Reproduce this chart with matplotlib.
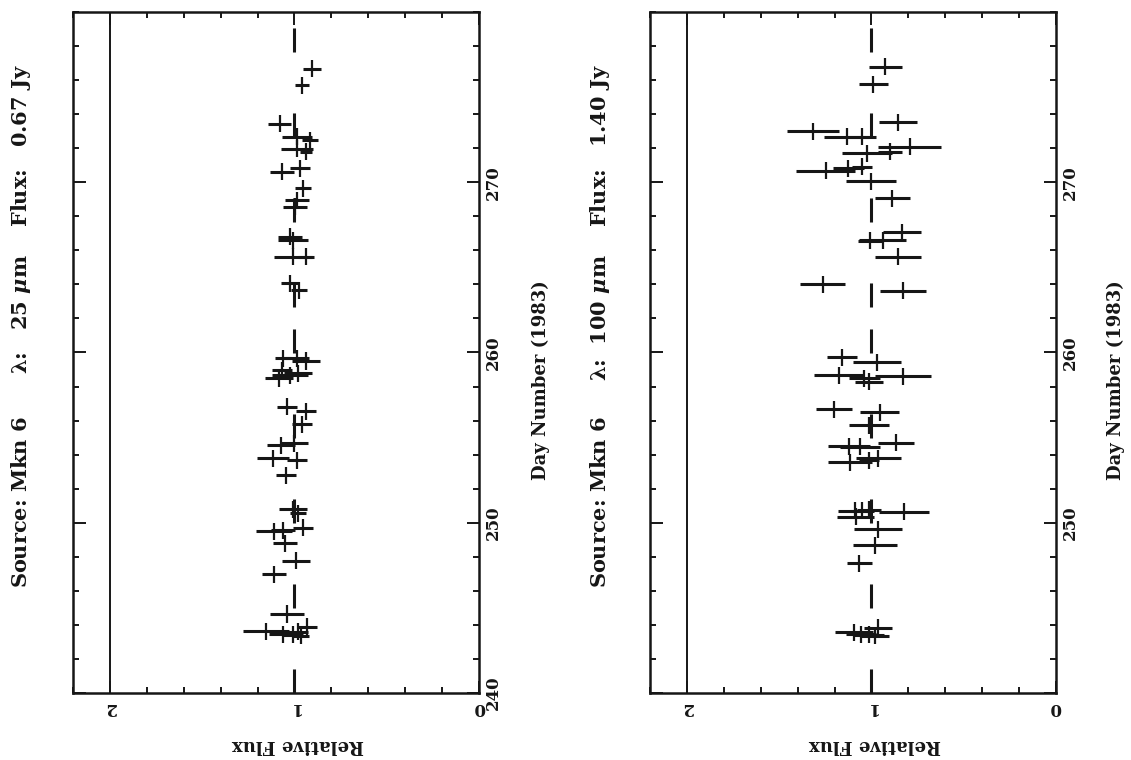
import matplotlib

matplotlib.use("Agg")
import matplotlib.pyplot as plt
from matplotlib.ticker import MultipleLocator

plt.rcParams["font.family"] = "DejaVu Serif"
plt.rcParams["font.weight"] = "bold"
plt.rcParams["mathtext.fontset"] = "dejavuserif"
plt.rcParams["lines.scale_dashes"] = False

INK = "#161616"
W, H = 1131, 760

# Mkn 6, 25 micron: day number, relative flux, flux error
DAY_25 = [276.68, 275.70, 273.45, 272.67, 272.47, 271.98, 271.79, 270.61,
          270.81, 269.64, 268.95, 268.56, 266.79, 266.60, 265.62, 265.62,
          264.06, 263.66, 259.65, 259.65, 259.50, 258.97, 258.48, 258.67,
          258.77, 256.81, 256.56, 255.78, 254.56, 254.66, 253.78, 253.68,
          252.80, 250.79, 250.57, 249.51, 249.57, 249.71, 248.79, 247.77,
          246.97, 244.64, 243.64, 243.46, 243.41, 243.60, 243.89, 243.35]
FLUX_25 = [0.907, 0.961, 1.079, 0.988, 0.916, 0.988, 0.938, 1.069,
           0.970, 0.952, 0.988, 0.997, 1.024, 1.007, 1.007, 0.938,
           1.024, 0.974, 1.061, 0.988, 0.938, 1.069, 1.082, 1.024,
           0.979, 1.039, 0.938, 0.961, 1.073, 1.001, 1.118, 0.988,
           1.046, 1.010, 0.983, 1.111, 1.061, 0.952, 1.051, 0.992,
           1.111, 1.042, 1.154, 1.064, 1.010, 0.979, 0.931, 0.965]
ERR_25 = [0.049, 0.038, 0.062, 0.081, 0.043, 0.087, 0.033, 0.065,
          0.054, 0.043, 0.065, 0.065, 0.065, 0.081, 0.103, 0.043,
          0.049, 0.043, 0.043, 0.065, 0.076, 0.054, 0.076, 0.098,
          0.076, 0.054, 0.054, 0.054, 0.076, 0.076, 0.087, 0.054,
          0.054, 0.076, 0.043, 0.098, 0.065, 0.054, 0.065, 0.076,
          0.065, 0.092, 0.125, 0.076, 0.054, 0.054, 0.054, 0.043]

# Mkn 6, 100 micron
DAY_100 = [276.78, 275.76, 273.51, 273.00, 272.67, 272.67, 272.08, 271.79,
           271.69, 270.67, 270.81, 270.90, 270.06, 269.05, 267.05, 266.60,
           266.56, 265.62, 264.00, 263.62, 259.71, 259.42, 258.67, 258.48,
           258.28, 258.61, 256.68, 256.48, 255.74, 254.70, 254.50, 254.46,
           253.80, 253.55, 253.68, 250.70, 250.70, 250.75, 250.65, 250.35,
           249.61, 248.69, 247.62, 243.56, 243.46, 243.83, 243.41, 243.36]
FLUX_100 = [0.925, 0.989, 0.857, 1.316, 1.135, 1.049, 0.793, 0.898,
            1.026, 1.249, 1.125, 1.053, 1.002, 0.886, 0.835, 0.940,
            1.007, 0.857, 1.265, 0.829, 1.158, 0.971, 1.174, 1.038,
            1.011, 0.829, 1.202, 0.956, 1.013, 0.868, 1.120, 1.060,
            0.962, 1.116, 1.013, 1.089, 1.049, 1.013, 0.822, 1.086,
            0.966, 0.980, 1.065, 1.094, 1.056, 0.966, 1.013, 0.980]
ERR_100 = [0.091, 0.076, 0.104, 0.142, 0.120, 0.076, 0.169, 0.065,
           0.136, 0.158, 0.082, 0.054, 0.136, 0.095, 0.104, 0.125,
           0.065, 0.125, 0.120, 0.123, 0.082, 0.131, 0.136, 0.082,
           0.076, 0.153, 0.098, 0.104, 0.109, 0.098, 0.114, 0.109,
           0.120, 0.120, 0.054, 0.093, 0.065, 0.065, 0.136, 0.098,
           0.131, 0.120, 0.068, 0.104, 0.082, 0.076, 0.082, 0.076]

DAY_ERR = 0.5  # half-width of each observation window (days)

TITLE_25 = r"Source: Mkn 6      λ:   25 $\mu$m    Flux:   0.67 Jy"
TITLE_100 = r"Source: Mkn 6     λ:  100 $\mu$m    Flux:   1.40 Jy"
DAY_TICKS = [240, 250, 260, 270]
DAY_LABELS_25 = ["240", "250", "260", "270"]
DAY_LABELS_100 = ["", "250", "260", "270"]
FLUX_TICKS = [0, 1, 2]
FLUX_LABELS = ["0", "1", "2"]
DAY_RANGE = (240, 280)
FLUX_RANGE = (2.2, 0)
SPLIT_DAY = 261.8  # the two dashed halves of the unit-flux line meet here


def fx(p):
    return p / W


def fy(p):
    return 1 - p / H


fig = plt.figure(figsize=(W / 100, H / 100), dpi=100)


def panel(x_left, x_right, days, flux, err, day_labels, title, title_x, xlab_x, flab_x):
    ax = fig.add_axes([fx(x_left), fy(693), fx(x_right - x_left), (693 - 12) / H])
    ax.set_xlim(*FLUX_RANGE)
    ax.set_ylim(*DAY_RANGE)

    ax.axvline(2.0, color=INK, lw=1.4)
    ax.plot([1, 1], [DAY_RANGE[0], SPLIT_DAY], color=INK, lw=2.2,
            linestyle=(0, (17.3, 43.9)))
    ax.plot([1, 1], [DAY_RANGE[1], SPLIT_DAY], color=INK, lw=2.2,
            linestyle=(49.7, (17.3, 43.9)))

    ax.errorbar(flux, days, xerr=err, fmt="none", ecolor=INK,
                elinewidth=2.2, capsize=0)
    ax.errorbar(flux, days, yerr=DAY_ERR, fmt="none", ecolor=INK,
                elinewidth=1.6, capsize=0)

    ax.set_xticks(FLUX_TICKS, labels=FLUX_LABELS)
    ax.xaxis.set_minor_locator(MultipleLocator(0.2))
    ax.set_yticks(DAY_TICKS, labels=day_labels)
    ax.yaxis.set_minor_locator(MultipleLocator(2))
    ax.tick_params(which="both", direction="in", top=True, bottom=True,
                   left=True, right=True, labelleft=False, labelright=True,
                   color=INK, width=1.4, labelcolor=INK)
    ax.tick_params(which="major", length=9)
    ax.tick_params(which="minor", length=4.5)
    ax.tick_params(axis="x", labelrotation=180, pad=4, labelsize=12)
    ax.tick_params(axis="y", labelrotation=90, pad=4, labelsize=12)
    for lbl in ax.get_yticklabels():
        lbl.set_va("center")
    for s in ax.spines.values():
        s.set_linewidth(1.8)
        s.set_color(INK)

    fig.text(fx(title_x), fy(326), title, rotation=90, ha="center",
             va="center", fontsize=15, color=INK)
    fig.text(fx(xlab_x), fy(380), "Day Number (1983)", rotation=90,
             ha="center", va="center", fontsize=13, color=INK)
    fig.text(fx(flab_x), fy(745), "Relative Flux", rotation=180,
             ha="center", va="center", fontsize=13, color=INK)
    return ax


panel(73, 479, DAY_25, FLUX_25, ERR_25, DAY_LABELS_25, TITLE_25, 21, 541, 298)
panel(650, 1056, DAY_100, FLUX_100, ERR_100, DAY_LABELS_100, TITLE_100, 600, 1116, 875)

fig.savefig("out.png", dpi=100, facecolor="white")
